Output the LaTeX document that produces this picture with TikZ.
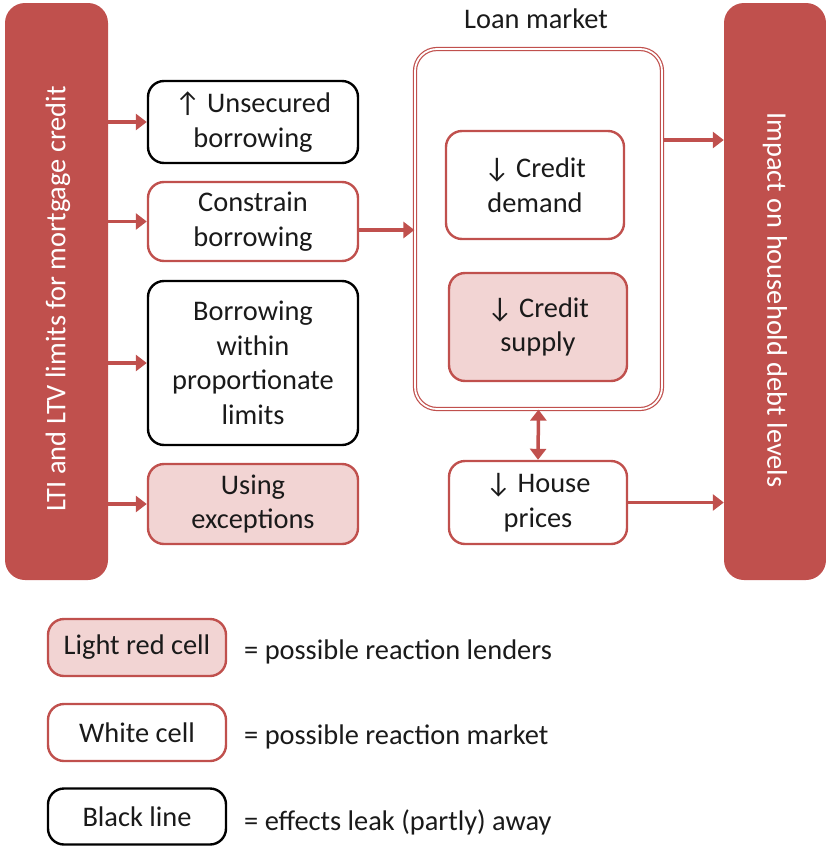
\documentclass[tikz,border=0pt]{standalone}
\usepackage{fontspec}
\setmainfont{Carlito}
\usetikzlibrary{arrows.meta}
\definecolor{bred}{HTML}{C0504D}
\definecolor{lred}{HTML}{F2D4D3}
\definecolor{txt}{HTML}{1A1A1A}
\begin{document}
\begin{tikzpicture}[x=1pt,y=-1pt,
  font=\fontsize{28.4}{34.5}\selectfont,
  box/.style={draw, rounded corners=16pt, line width=2.4pt, align=center, text=txt, inner sep=0pt},
  redbox/.style={box, draw=bred, fill=white},
  blackbox/.style={box, draw=black, fill=white},
  pinkbox/.style={box, draw=bred, fill=lred},
  bar/.style={fill=bred, rounded corners=20pt, draw=none, inner sep=0pt},
  arr/.style={draw=bred, line width=3.5pt, -{Triangle[length=11pt,width=16pt]}},
  darr/.style={draw=bred, line width=3.5pt, {Triangle[length=11pt,width=16pt]}-{Triangle[length=11pt,width=16pt]}},
  legtext/.style={anchor=west, text=txt, inner sep=0pt}]
\useasboundingbox (0,0) rectangle (826,846);

% side bars
\node[bar, minimum width=103pt, minimum height=577pt] (lbar) at (56.5,291.5) {};
\node[rotate=90, text=white] (ltxt) at (58,299) {LTI and LTV limits for mortgage credit};
\node[bar, minimum width=102pt, minimum height=577pt] (rbar) at (775,291.5) {};
\node[rotate=-90, text=white] (rtxt) at (775,300) {Impact on household debt levels};

% left column
\node[blackbox, minimum width=210pt, minimum height=82pt] (uns) at (253,122) {↑ Unsecured\\borrowing};
\node[redbox, minimum width=210pt, minimum height=79pt] (con) at (253,221.5) {Constrain\\borrowing};
\node[blackbox, minimum width=210pt, minimum height=164pt] (bwp) at (253,363) {Borrowing\\within\\proportionate\\limits};
\node[pinkbox, minimum width=210pt, minimum height=80pt] (exc) at (253,504) {Using\\exceptions};

% loan market
\node[draw=bred, double=white, line width=1.2pt, double distance=1.8pt, rounded corners=22pt,
      minimum width=247pt, minimum height=360pt, inner sep=0pt] (loan) at (538.5,229) {};
\node[text=txt] (loanlbl) at (536,19) {Loan market};
\node[redbox, minimum width=178pt, minimum height=108pt] (dem) at (535,185) {↓ Credit\\demand};
\node[pinkbox, minimum width=178pt, minimum height=108pt] (sup) at (538,327) {↓ Credit\\supply};
\node[redbox, minimum width=178pt, minimum height=83pt] (hou) at (538,502.5) {↓ House\\prices};

% arrows
\draw[arr] (uns.west -| lbar.east) -- (uns.west);
\draw[arr] (con.west -| lbar.east) -- (con.west);
\draw[arr] (bwp.west -| lbar.east) -- (bwp.west);
\draw[arr] (exc.west -| lbar.east) -- (exc.west);
\coordinate (c1) at ([yshift=-8.5pt]con.east);
\draw[arr] (c1) -- (c1 -| loan.west);
\coordinate (c2) at ([yshift=89pt]loan.east);
\draw[arr] (c2) -- (c2 -| rbar.west);
\draw[arr] (hou.east) -- (hou.east -| rbar.west);
\draw[darr] (loan.south) -- (hou.north);

% legend
\node[pinkbox, minimum width=178pt, minimum height=57pt] (lg1) at (137,647.5) {Light red cell};
\node[redbox, minimum width=178pt, minimum height=57pt] (lg2) at (137,732.5) {White cell};
\node[blackbox, minimum width=178pt, minimum height=56pt] (lg3) at (137,816.5) {Black line};
\node[legtext] (lt1) at (244,652) {= possible reaction lenders};
\node[legtext] (lt2) at (244,737) {= possible reaction market};
\node[legtext] (lt3) at (244,822) {= effects leak (partly) away};
\end{tikzpicture}
\end{document}
